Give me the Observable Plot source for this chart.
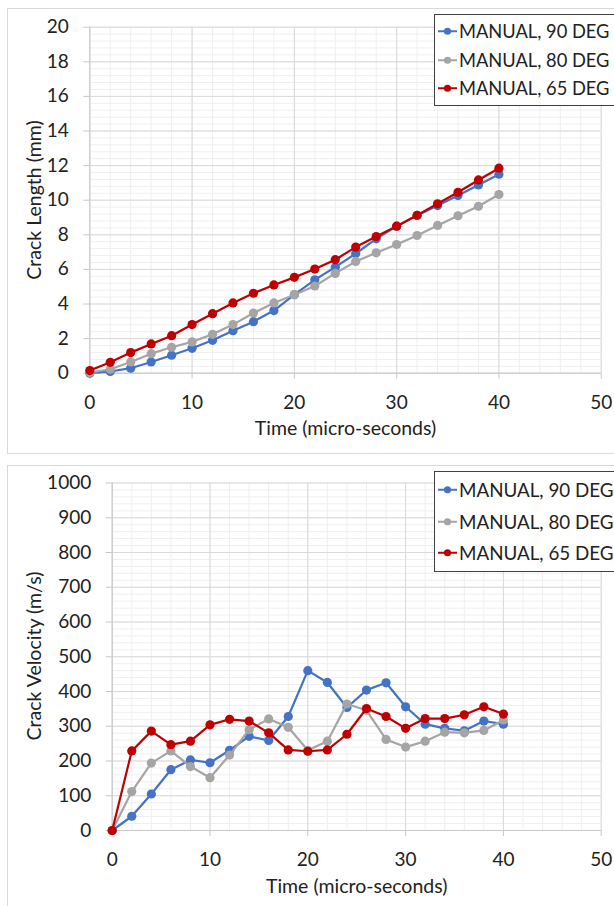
<!DOCTYPE html>
<html>
<head>
<meta charset="utf-8">
<script src="https://cdn.jsdelivr.net/npm/d3@7"></script>
<script src="https://cdn.jsdelivr.net/npm/@observablehq/plot@0.6"></script>
<style>
  html, body { margin: 0; padding: 0; background: #fff; }
  #wrap { position: relative; width: 614px; height: 906px; overflow: hidden; font-family: Lato, "Open Sans", sans-serif; color: #222; }
  .frame { position: absolute; border: 1px solid #d9d9d9; box-sizing: border-box; background: #fff; }
  .chart { position: absolute; left: 0; }
  .ytitle { position: absolute; white-space: nowrap; font-size: 19.5px; line-height: 1; transform: translate(-50%, -50%) rotate(-90deg); color: #222; }
  .legend { position: absolute; background: #fff; border: 1px solid #404040; box-sizing: border-box; white-space: nowrap; }
  .legend .row { display: flex; align-items: center; }
  .legend svg { display: block; flex: none; }
</style>
</head>
<body>
<div id="wrap">
  <div class="frame" style="left:7px; top:8px; width:620px; height:446px;"></div>
  <div class="frame" style="left:7px; top:465px; width:620px; height:460px;"></div>
</div>
<script>
const times = [0, 2, 4, 6, 8, 10, 12, 14, 16, 18, 20, 22, 24, 26, 28, 30, 32, 34, 36, 38, 40];
const seriesNames = ["MANUAL, 90 DEG", "MANUAL, 80 DEG", "MANUAL, 65 DEG"];
const seriesColors = ["#4472C4", "#A5A5A5", "#C00000"];

// Crack length (mm)
const lengthM90 = [0, 0.1, 0.29, 0.65, 1.04, 1.44, 1.9, 2.46, 2.98, 3.62, 4.54, 5.4, 6.13, 6.92, 7.77, 8.5, 9.12, 9.69, 10.27, 10.88, 11.5];
const lengthM80 = [0.04, 0.23, 0.65, 1.13, 1.5, 1.81, 2.25, 2.81, 3.48, 4.06, 4.54, 5.04, 5.77, 6.46, 6.96, 7.44, 7.96, 8.54, 9.1, 9.65, 10.33];
const lengthM65 = [0.15, 0.63, 1.19, 1.69, 2.17, 2.81, 3.44, 4.06, 4.62, 5.1, 5.54, 6.02, 6.56, 7.29, 7.9, 8.5, 9.13, 9.79, 10.46, 11.17, 11.85];

// Crack velocity (m/s)
const velocityM90 = [0, 41, 105, 175, 203, 195, 231, 271, 259, 328, 460, 426, 354, 404, 425, 356, 306, 294, 287, 315, 306];
const velocityM80 = [0, 112, 194, 229, 184, 152, 217, 290, 321, 297, 231, 257, 364, 346, 262, 240, 257, 283, 281, 288, 318];
const velocityM65 = [0, 229, 286, 247, 257, 304, 320, 315, 281, 232, 228, 232, 277, 351, 328, 294, 322, 322, 333, 356, 335];

const xTicks = [0, 10, 20, 30, 40, 50];
const lengthTicks = [0, 2, 4, 6, 8, 10, 12, 14, 16, 18, 20];
const velocityTicks = [0, 100, 200, 300, 400, 500, 600, 700, 800, 900, 1000];

const xTitle = "Time (micro-seconds)";
const lengthTitle = "Crack Length (mm)";
const velocityTitle = "Crack Velocity (m/s)";

function makeChart({values, yTicks, yMinorStep, height, marginLeft, marginTop, marginBottom}) {
  const yMax = yTicks[yTicks.length - 1];
  const xMinor = d3.range(0, 50.001, 2);
  const yMinor = d3.range(0, yMax + yMinorStep / 2, yMinorStep);
  const seriesMarks = [];
  values.forEach((vals, si) => {
    const rows = vals.map((v, i) => ({t: times[i], v, name: seriesNames[si]}));
    seriesMarks.push(Plot.line(rows, {x: "t", y: "v", stroke: "name", strokeWidth: 2.2}));
    seriesMarks.push(Plot.dot(rows, {x: "t", y: "v", fill: "name", r: 4.6}));
  });
  return Plot.plot({
    width: 614,
    height,
    marginLeft,
    marginRight: 13.3,
    marginTop,
    marginBottom,
    style: {fontFamily: "Lato, 'Open Sans', sans-serif", fontSize: "19px", color: "#222", background: "transparent", overflow: "visible"},
    x: {domain: [0, 50]},
    y: {domain: [0, yMax]},
    color: {domain: seriesNames, range: seriesColors},
    marks: [
      Plot.gridX(xMinor, {stroke: "#efefef", strokeOpacity: 1}),
      Plot.gridY(yMinor, {stroke: "#efefef", strokeOpacity: 1}),
      Plot.gridX(xTicks, {stroke: "#d9d9d9", strokeOpacity: 1}),
      Plot.gridY(yTicks, {stroke: "#d9d9d9", strokeOpacity: 1}),
      Plot.ruleY([0], {stroke: "#c8c8c8"}),
      Plot.ruleX([0], {stroke: "#c8c8c8"}),
      Plot.axisX(xTicks, {tickSize: 6, tickPadding: 16, stroke: "#c8c8c8", label: null, fontSize: 19, tickFormat: d => String(d)}),
      Plot.axisY(yTicks, {tickSize: 6, tickPadding: 15, stroke: "#c8c8c8", label: null, fontSize: 19, tickFormat: d => String(d)}),
      ...seriesMarks,
      Plot.text([xTitle], {text: d => d, frameAnchor: "bottom", dy: 62, fontSize: 19.5, fill: "#222"})
    ]
  });
}

function makeLegend(left, top, rowH, fontSize) {
  const box = document.createElement("div");
  box.className = "legend";
  box.style.left = left + "px";
  box.style.top = top + "px";
  box.style.width = "200px";
  box.style.padding = "2px 0 2px 2px";
  seriesNames.forEach((name, i) => {
    const row = document.createElement("div");
    row.className = "row";
    row.style.height = rowH + "px";
    row.style.fontSize = fontSize + "px";
    const sw = d3.create("svg").attr("width", 21).attr("height", rowH);
    sw.append("line").attr("x1", 1).attr("x2", 20).attr("y1", rowH / 2).attr("y2", rowH / 2)
      .attr("stroke", seriesColors[i]).attr("stroke-width", 2);
    sw.append("circle").attr("cx", 10.5).attr("cy", rowH / 2).attr("r", 3.6).attr("fill", seriesColors[i]);
    row.appendChild(sw.node());
    const label = document.createElement("span");
    label.textContent = name;
    label.style.marginLeft = "1px";
    row.appendChild(label);
    box.appendChild(row);
  });
  return box;
}

function makeYTitle(text, cx, cy) {
  const el = document.createElement("div");
  el.className = "ytitle";
  el.textContent = text;
  el.style.left = cx + "px";
  el.style.top = cy + "px";
  return el;
}

const wrap = document.getElementById("wrap");

const top1 = makeChart({
  values: [lengthM90, lengthM80, lengthM65],
  yTicks: lengthTicks, yMinorStep: 0.4,
  height: 445, marginLeft: 89.3, marginTop: 18.7, marginBottom: 80.3
});
top1.classList.add("chart");
top1.style.top = "8px";
wrap.appendChild(top1);

const bottom1 = makeChart({
  values: [velocityM90, velocityM80, velocityM65],
  yTicks: velocityTicks, yMinorStep: 20,
  height: 441, marginLeft: 111.7, marginTop: 17.5, marginBottom: 76
});
bottom1.classList.add("chart");
bottom1.style.top = "465px";
wrap.appendChild(bottom1);

wrap.appendChild(makeYTitle(lengthTitle, 33.5, 200));
wrap.appendChild(makeYTitle(velocityTitle, 33.5, 656));

wrap.appendChild(makeLegend(434, 14, 28.5, 18.3));
wrap.appendChild(makeLegend(434, 471, 31.5, 18.8));
</script>
</body>
</html>
